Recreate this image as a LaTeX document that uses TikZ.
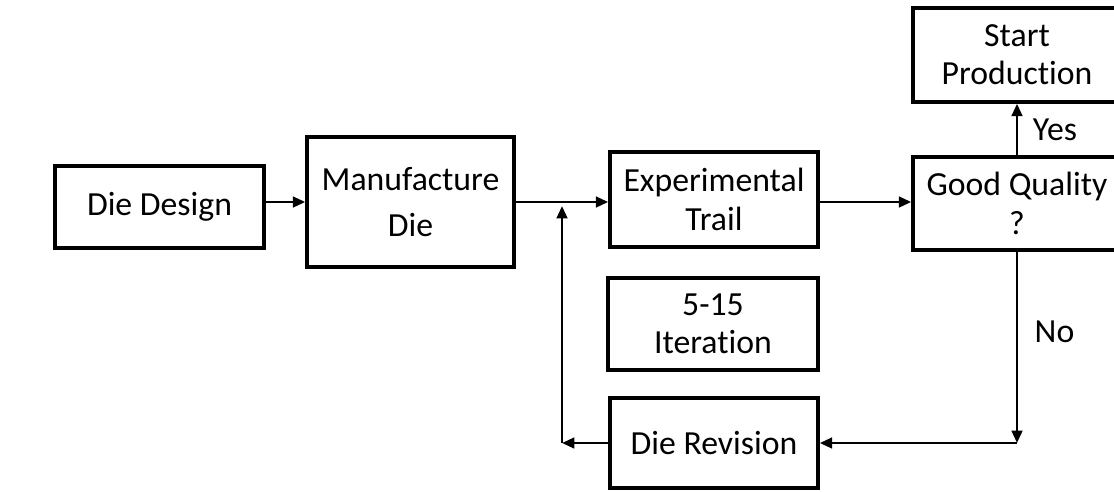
\documentclass[tikz,border=0pt]{standalone}
\usepackage{fontspec}
\setmainfont{Carlito}[Ligatures=NoCommon]
\usetikzlibrary{arrows.meta}

\begin{document}
\begin{tikzpicture}[x=0.02cm, y=-0.02cm,
    box/.style={draw=black, line width=2pt, align=center, inner sep=0pt,
        font=\fontsize{19.2}{21.8}\selectfont},
    flow/.style={draw=black, line width=1.5pt, -{Triangle[length=7pt, width=6pt]}},
    tag/.style={font=\fontsize{19.2}{21.8}\selectfont}]
    \useasboundingbox (0,0) rectangle (1114,491);
    \node[box, minimum width=209*0.02cm, minimum height=82*0.02cm] (design) at (159.5,207) {Die Design};
    \node[box, minimum width=207*0.02cm, minimum height=130*0.02cm] (manufacture) at (410.5,202) {Manufacture\\[4pt] Die};
    \node[box, minimum width=208*0.02cm, minimum height=95*0.02cm] (trail) at (714,199.5) {Experimental\\ Trail};
    \node[box, minimum width=210*0.02cm, minimum height=92*0.02cm] (iteration) at (713,324) {5-15\\ Iteration};
    \node[box, minimum width=208*0.02cm, minimum height=90*0.02cm] (revision) at (714,443) {Die Revision};
    \node[box, minimum width=208*0.02cm, minimum height=93*0.02cm] (quality) at (1017,203.5) {Good Quality\\ ?};
    \node[box, minimum width=208*0.02cm, minimum height=94*0.02cm] (start) at (1017,55) {Start\\ Production};
    \coordinate (back) at (562,443);
    \coordinate (join) at (562,206);
    \coordinate (turn) at (1017,443);
    % main line
    \draw[flow] (design.east |- 0,202) -- (manufacture.west |- 0,202);
    \draw[flow] (manufacture.east |- 0,202) -- (trail.west |- 0,202);
    \draw[flow] (trail.east |- 0,202) -- (quality.west |- 0,202);
    \draw[flow] (quality.north) -- node[tag, pos=0.5, right=5pt] {Yes} (start.south);
    % loop back
    \draw[flow] (quality.south) -- node[tag, pos=0.42, right=6pt] {No} (turn);
    \draw[flow] (turn) -- (revision.east);
    \draw[flow] (revision.west) -- (back);
    \draw[flow] (back) -- (join);
\end{tikzpicture}
\end{document}
